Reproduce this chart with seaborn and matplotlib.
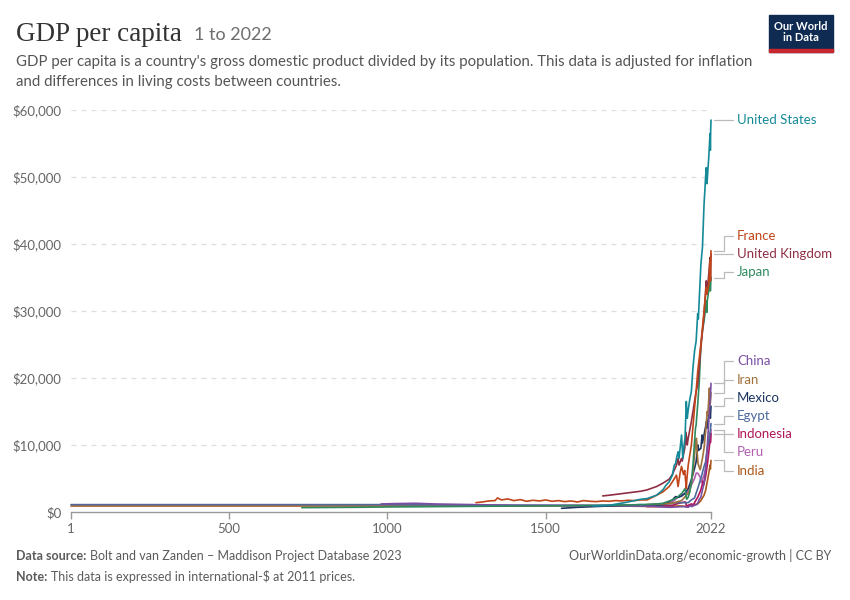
import pandas as pd
import matplotlib.pyplot as plt
import matplotlib.transforms as mtransforms
from matplotlib.patches import Rectangle
import seaborn as sns

# GDP per capita (international-$, 2011 prices)
us_years = [1650, 1700, 1750, 1800, 1820, 1850, 1870, 1880, 1890, 1900, 1906, 1910, 1913, 1918, 1921,
            1929, 1933, 1937, 1940, 1944, 1947, 1950, 1955, 1960, 1965, 1970, 1975, 1980, 1982, 1990,
            1995, 2000, 2005, 2007, 2009, 2010, 2015, 2019, 2020, 2021, 2022]
us_gdp = [900, 1000, 1400, 1900, 2000, 2500, 3300, 4000, 4500, 5500, 7000, 7200, 8000, 9000, 8000,
          11500, 8000, 10000, 11000, 16500, 14000, 15200, 16800, 18000, 21500, 24000, 25500, 29600, 28800, 36900,
          39500, 45900, 50000, 51400, 49000, 49500, 53000, 56500, 54000, 57000, 58500]

fr_years = [1280, 1300, 1320, 1340, 1348, 1360, 1380, 1400, 1420, 1440, 1460, 1480, 1500, 1520, 1540,
            1560, 1580, 1600, 1620, 1640, 1660, 1680, 1700, 1720, 1740, 1760, 1780, 1800, 1820, 1850,
            1870, 1890, 1900, 1913, 1918, 1925, 1929, 1935, 1939, 1944, 1946, 1950, 1960, 1970, 1975,
            1980, 1990, 2000, 2007, 2009, 2015, 2019, 2020, 2022]
fr_gdp = [1400, 1500, 1650, 1700, 2100, 1800, 1950, 1700, 1850, 1600, 1750, 1650, 1800, 1600, 1700,
          1550, 1650, 1500, 1700, 1600, 1550, 1650, 1600, 1700, 1650, 1750, 1700, 1800, 1800, 2500,
          3000, 3800, 4500, 5500, 3800, 6000, 6800, 5600, 6200, 3500, 5000, 7000, 10000, 15500, 18000,
          21000, 25000, 30000, 33500, 32500, 34000, 37500, 34500, 39000]

uk_years = [1680, 1700, 1750, 1800, 1820, 1850, 1870, 1890, 1900, 1913, 1918, 1921, 1929, 1931,
            1939, 1943, 1947, 1950, 1960, 1970, 1975, 1980, 1990, 2000, 2007, 2009, 2015, 2019, 2020, 2022]
uk_gdp = [2400, 2500, 2800, 3100, 3300, 3800, 4300, 4900, 5600, 7000, 8000, 7000, 8000, 7600,
          9500, 11900, 10000, 11000, 13500, 16500, 18000, 19000, 24500, 29500, 34500, 32500, 35500, 38000, 34500, 38500]

jp_years = [730, 900, 1000, 1150, 1280, 1450, 1600, 1700, 1800, 1850, 1870, 1900, 1913, 1930, 1940,
            1945, 1950, 1955, 1960, 1965, 1970, 1973, 1975, 1980, 1985, 1990, 1995, 2000, 2008, 2009,
            2010, 2015, 2019, 2020, 2022]
jp_gdp = [650, 700, 750, 800, 850, 900, 950, 1000, 1100, 1200, 1300, 1800, 2100, 2800, 3500,
          1900, 2200, 3000, 4500, 7000, 10500, 12500, 13000, 16000, 19500, 25000, 27000, 28500, 31500, 29800,
          31500, 33000, 34500, 33000, 35000]

cn_years = [980, 1020, 1090, 1150, 1400, 1500, 1600, 1700, 1750, 1800, 1840, 1850, 1870, 1890, 1913,
            1929, 1938, 1950, 1958, 1961, 1970, 1976, 1980, 1985, 1990, 1995, 2000, 2005, 2010, 2015,
            2019, 2020, 2022]
cn_gdp = [1200, 1250, 1300, 1200, 1000, 1000, 950, 1000, 950, 900, 850, 800, 750, 700, 750,
          800, 800, 700, 1000, 800, 1000, 1100, 1300, 1900, 2200, 3300, 4300, 6500, 9600, 13500,
          16500, 17000, 19200]

ir_years = [1820, 1870, 1900, 1913, 1929, 1950, 1955, 1960, 1965, 1970, 1974, 1976, 1977, 1978, 1980,
            1981, 1988, 1990, 1995, 2000, 2005, 2010, 2012, 2017, 2019, 2020, 2022]
ir_gdp = [1100, 1200, 1300, 1500, 1700, 2800, 3200, 4200, 6000, 8500, 10500, 11000, 10500, 9000, 8000,
          7200, 6300, 6800, 8000, 9500, 12000, 15000, 14500, 18500, 16000, 16300, 17800]

mx_years = [1550, 1600, 1700, 1800, 1820, 1870, 1900, 1910, 1920, 1930, 1940, 1950, 1960, 1970, 1975,
            1981, 1983, 1990, 1994, 1995, 2000, 2008, 2009, 2015, 2018, 2020, 2022]
mx_gdp = [550, 700, 900, 1100, 1000, 1100, 1800, 2300, 2200, 2400, 2800, 3500, 4800, 6500, 7500,
          10000, 9200, 9500, 11500, 10300, 11500, 13500, 12500, 14500, 15500, 14000, 15800]

eg_years = [1, 700, 1000, 1500, 1600, 1700, 1800, 1820, 1870, 1900, 1913, 1929, 1950, 1960, 1970,
            1980, 1990, 2000, 2005, 2010, 2015, 2020, 2022]
eg_gdp = [1100, 1100, 1100, 1000, 1000, 950, 900, 900, 1100, 1300, 1400, 1400, 1400, 1800, 2100,
          3500, 5000, 6800, 7500, 9500, 10500, 12200, 13200]

id_years = [1820, 1870, 1900, 1913, 1929, 1941, 1945, 1950, 1960, 1967, 1970, 1980, 1990, 1997, 1998,
            2000, 2005, 2010, 2015, 2019, 2020, 2022]
id_gdp = [800, 900, 1000, 1200, 1400, 1500, 900, 1000, 1200, 1100, 1400, 2200, 3300, 4600, 4000,
          4300, 5300, 6900, 8900, 10800, 10500, 11700]

pe_years = [1700, 1800, 1870, 1900, 1913, 1929, 1940, 1950, 1960, 1970, 1975, 1980, 1988, 1990, 1992,
            2000, 2005, 2010, 2013, 2019, 2020, 2022]
pe_gdp = [1000, 1000, 1200, 1500, 2000, 2600, 2700, 3000, 4000, 5000, 5800, 5800, 5200, 4500, 4400,
          5500, 6500, 9000, 10500, 11800, 10300, 12300]

in_years = [1, 1000, 1500, 1600, 1700, 1800, 1850, 1870, 1900, 1913, 1929, 1947, 1950, 1960, 1970,
            1980, 1990, 2000, 2005, 2010, 2015, 2019, 2020, 2022]
in_gdp = [900, 900, 900, 950, 900, 850, 800, 800, 850, 900, 900, 800, 850, 1000, 1100,
          1200, 1700, 2500, 3200, 4500, 5800, 7000, 6400, 7700]

countries = ["United States", "France", "United Kingdom", "Japan", "China", "Iran",
             "Mexico", "Egypt", "Indonesia", "Peru", "India"]
series = [(us_years, us_gdp), (fr_years, fr_gdp), (uk_years, uk_gdp), (jp_years, jp_gdp),
          (cn_years, cn_gdp), (ir_years, ir_gdp), (mx_years, mx_gdp), (eg_years, eg_gdp),
          (id_years, id_gdp), (pe_years, pe_gdp), (in_years, in_gdp)]
colors = ["#148a98", "#c0461a", "#8e2f44", "#2e8a5e", "#7a4fa3", "#a1703b",
          "#1c3563", "#4c6a9c", "#b0175a", "#b260b0", "#a8581c"]
# label heights on the right side (dollars)
label_y = [58500, 41200, 38500, 35800, 22500, 19700, 17000, 14300, 11600, 9000, 6100]

x_ticks = [1, 500, 1000, 1500, 2022]
y_ticks = [0, 10000, 20000, 30000, 40000, 50000, 60000]

rows = []
for name, (yrs, vals) in zip(countries, series):
    for yr, v in zip(yrs, vals):
        rows.append({"country": name, "year": yr, "gdp": v})
df = pd.DataFrame(rows)
palette = dict(zip(countries, colors))

sns.set_theme(style="white")
plt.rcParams['font.family'] = ['Lato', 'DejaVu Sans']

fig = plt.figure(figsize=(8.5, 6), dpi=100)
ax = fig.add_axes([71 / 850, 1 - 512 / 600, 640 / 850, 402 / 600])

sns.lineplot(data=df, x="year", y="gdp", hue="country", hue_order=countries[::-1],
             palette=palette, estimator=None, linewidth=1.2, legend=False, ax=ax)
for ln in ax.lines:
    ln.set_clip_on(False)

ax.set_xlim(1, 2022)
ax.set_ylim(0, 60000)
ax.set_xlabel("")
ax.set_ylabel("")
ax.set_xticks(x_ticks)
ax.set_xticklabels([str(t) for t in x_ticks])
ax.set_yticks(y_ticks)
ax.set_yticklabels(["$0"] + ["${:,}".format(t) for t in y_ticks[1:]])
for t in y_ticks[1:]:
    ax.axhline(t, color="#dddddd", linewidth=0.9, linestyle=(0, (4, 4)), zorder=0)
for s in ["top", "right", "left"]:
    ax.spines[s].set_visible(False)
ax.spines["bottom"].set_color("#999999")
ax.spines["bottom"].set_linewidth(1)
ax.tick_params(axis="x", length=5, width=1, color="#999999", labelsize=9.5,
               labelcolor="#666666", pad=3, bottom=True)
ax.tick_params(axis="y", length=0, labelsize=9.5, labelcolor="#666666", pad=7)

# right-hand labels with connector lines
trans = mtransforms.blended_transform_factory(ax.transAxes, ax.transData)
for name, (yrs, vals), col, ly in zip(countries, series, colors, label_y):
    end = vals[-1]
    ax.plot([1.005, 1.02, 1.02, 1.035], [end, end, ly, ly], color="#bbbbbb",
            linewidth=0.9, transform=trans, clip_on=False)
    ax.text(1.041, ly, name, color=col, fontsize=9.5, va="center", ha="left",
            transform=trans)

# header
fig.text(16 / 850, 1 - 41 / 600, "GDP per capita", fontsize=19.5, color="#333333",
         family="Liberation Serif", va="baseline")
fig.text(194 / 850, 1 - 40 / 600, "1 to 2022", fontsize=13, color="#6e6e6e", va="baseline")
fig.text(16 / 850, 1 - 66 / 600, "GDP per capita is a country's gross domestic product divided by its "
         "population. This data is adjusted for inflation", fontsize=10.8, color="#555555", va="baseline")
fig.text(16 / 850, 1 - 86 / 600, "and differences in living costs between countries.",
         fontsize=10.8, color="#555555", va="baseline")

# logo
fig.patches.append(Rectangle((769 / 850, 1 - 52 / 600), 64 / 850, 37 / 600,
                             transform=fig.transFigure, color="#0f2b52", zorder=5))
fig.patches.append(Rectangle((769 / 850, 1 - 52 / 600), 64 / 850, 3 / 600,
                             transform=fig.transFigure, color="#c8282d", zorder=6))
fig.text(801 / 850, 1 - 32 / 600, "Our World\nin Data", fontsize=8, color="white",
         ha="center", va="center", weight="bold", linespacing=1.0, zorder=7)

# footer
renderer = fig.canvas.get_renderer()
t1 = fig.text(16 / 850, 1 - 560 / 600, "Data source:", fontsize=9, color="#5b5b5b",
              weight="bold", va="baseline")
w1 = t1.get_window_extent(renderer).width
fig.text((16 + w1 + 4) / 850, 1 - 560 / 600, "Bolt and van Zanden – Maddison Project Database 2023",
         fontsize=9, color="#5b5b5b", va="baseline")
t2 = fig.text(16 / 850, 1 - 581 / 600, "Note:", fontsize=9, color="#5b5b5b",
              weight="bold", va="baseline")
w2 = t2.get_window_extent(renderer).width
fig.text((16 + w2 + 4) / 850, 1 - 581 / 600, "This data is expressed in international-$ at 2011 prices.",
         fontsize=9, color="#5b5b5b", va="baseline")
fig.text(831 / 850, 1 - 560 / 600, "OurWorldinData.org/economic-growth | CC BY", fontsize=9,
         color="#5b5b5b", ha="right", va="baseline")

fig.savefig("out.png", dpi=100)
